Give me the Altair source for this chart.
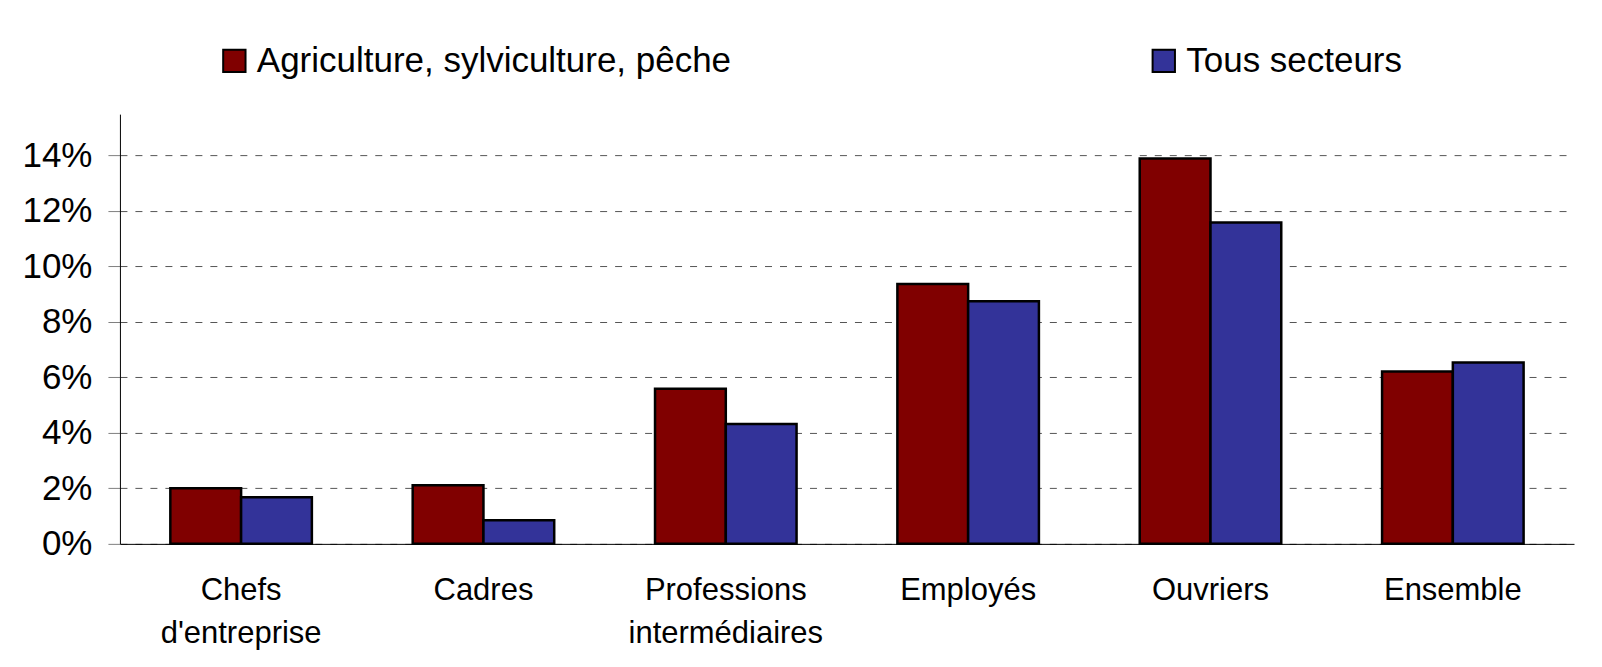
import altair as alt
import pandas as pd

categories = ["Chefs d'entreprise", "Cadres", "Professions intermédiaires",
              "Employés", "Ouvriers", "Ensemble"]
series = ["Agriculture, sylviculture, pêche", "Tous secteurs"]
agri = [0.0200, 0.0211, 0.0559, 0.0936, 0.1388, 0.0621]
tous = [0.0168, 0.0085, 0.0432, 0.0874, 0.1158, 0.0653]
colors = ["#800000", "#333399"]
y_ticks = [0, 0.02, 0.04, 0.06, 0.08, 0.10, 0.12, 0.14]

rows = []
for c, a, t in zip(categories, agri, tous):
    rows.append({"cat": c, "serie": series[0], "val": a})
    rows.append({"cat": c, "serie": series[1], "val": t})
df = pd.DataFrame(rows)

FONT = "Liberation Sans"

chart = alt.Chart(df).mark_bar(stroke="black", strokeWidth=2.5).encode(
    x=alt.X("cat:N", sort=categories,
            scale=alt.Scale(paddingInner=0.416, paddingOuter=0.208),
            axis=alt.Axis(title=None, labelAngle=0, ticks=False,
                          labelExpr="split(datum.label, ' ')",
                          labelFont=FONT, labelFontSize=31, labelLineHeight=43,
                          labelPadding=32, labelColor="black", labelLimit=1000,
                          domainColor="black", domainWidth=1, grid=False)),
    xOffset=alt.XOffset("serie:N", sort=series,
                        scale=alt.Scale(paddingInner=0, paddingOuter=0)),
    y=alt.Y("val:Q", scale=alt.Scale(domain=[0, 0.1548], nice=False),
            axis=alt.Axis(title=None, values=y_ticks, format=".0%",
                          labelFont=FONT, labelFontSize=35, labelColor="black",
                          labelPadding=16, tickSize=12, tickColor="#808080",
                          domainColor="black", domainWidth=1,
                          grid=True, gridDash=[7, 8], gridColor="#555555",
                          gridWidth=1)),
    color=alt.Color("serie:N", sort=series,
                    scale=alt.Scale(domain=series, range=colors),
                    legend=alt.Legend(title=None, orient="none", legendX=97,
                                      legendY=-71, direction="horizontal",
                                      columns=2, columnPadding=415,
                                      symbolType="square", symbolSize=500,
                                      symbolStrokeColor="black",
                                      symbolStrokeWidth=2,
                                      labelFont=FONT, labelFontSize=35,
                                      labelColor="black", labelOffset=5,
                                      padding=0, labelLimit=1000)),
).properties(
    width=1455, height=430,
    background="white",
    autosize=alt.AutoSizeParams(type="none"),
    padding={"left": 112, "top": 106, "right": 20, "bottom": 115},
).configure_view(stroke=None)

chart.save("out.html", embed_options={"renderer": "svg", "actions": False})
